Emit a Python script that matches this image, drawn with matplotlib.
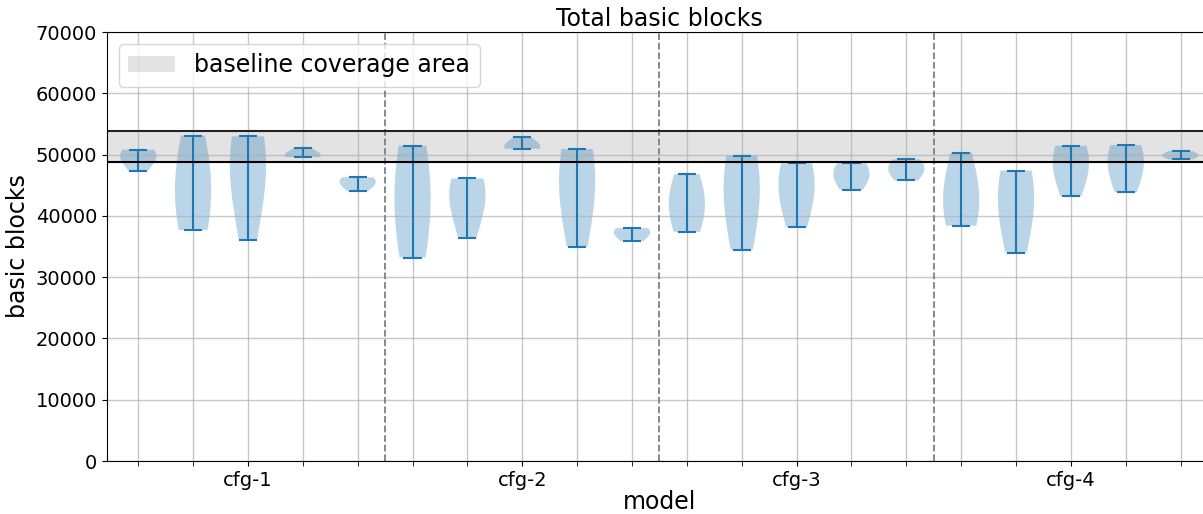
"""Violin plot of total basic blocks per run, grouped by cfg model."""

import matplotlib

matplotlib.use("Agg")
import matplotlib.pyplot as plt  # noqa: E402
from matplotlib.patches import Patch  # noqa: E402

# ── data ────────────────────────────────────────────────────────────────

group_labels = ["cfg-1", "cfg-2", "cfg-3", "cfg-4"]
runs_per_group = 5

baseline_low = 48800
baseline_high = 53800

# basic-block counts per run (one list per violin)
cfg1_runs = [
    [50800, 50600, 50400, 50200, 50000, 49600, 49000, 48200, 47400],
    [53100, 51800, 50200, 48600, 47000, 45500, 44000, 42500, 41000, 39800, 38800, 38200, 37700],
    [53000, 52600, 52000, 51200, 50200, 49000, 47500, 45500, 43000, 40000, 36000],
    [51000, 50400, 50000, 49800, 49700, 49600, 49600],
    [46300, 46100, 45900, 45600, 45300, 44900, 44050],
]
cfg2_runs = [
    [51450, 50500, 49000, 47500, 46000, 44000, 42000, 40000, 38000, 36000, 34500, 33200],
    [46100, 45800, 45300, 44600, 43800, 42800, 41500, 39500, 36400],
    [52800, 51700, 51300, 51100, 51000, 50950],
    [50900, 50300, 49500, 48500, 47200, 45500, 43500, 41000, 38000, 35000],
    [38000, 37900, 37700, 37400, 37000, 36500, 35900],
]
cfg3_runs = [
    [46800, 45500, 44000, 42800, 42000, 41000, 39800, 38500, 37400],
    [49800, 49300, 48500, 47400, 46000, 44200, 42000, 39500, 37000, 34500],
    [48600, 48000, 47300, 46500, 45500, 44200, 42600, 40500, 38200],
    [48600, 48100, 47600, 47200, 46700, 46000, 45200, 44300],
    [49200, 48700, 48200, 47800, 47300, 46700, 45800],
]
cfg4_runs = [
    [50300, 48000, 45500, 43500, 42000, 41000, 40200, 39500, 38400],
    [47400, 46900, 46000, 44800, 43400, 41700, 39600, 37000, 34000],
    [51450, 51000, 50300, 49500, 48500, 47200, 45500, 43200],
    [51550, 51100, 50400, 49600, 48600, 47300, 45800, 43900],
    [50600, 50150, 49950, 49900, 49800, 49600, 49200],
]

all_runs = cfg1_runs + cfg2_runs + cfg3_runs + cfg4_runs

# ── figure ──────────────────────────────────────────────────────────────

figure = plt.figure(figsize=(12.03, 5.14), dpi=100)
axis = figure.add_axes([0.0889, 0.1031, 0.9185, 0.8346])

positions = list(range(1, len(all_runs) + 1))
# wide kernel: the reference violins are smooth, nearly flat-sided
axis.violinplot(all_runs, positions=positions, widths=0.66, bw_method=1.5)

# baseline band, drawn as a shaded span with solid edges
axis.axhspan(baseline_low, baseline_high, color="gray", alpha=0.22, lw=0, zorder=0.5)
axis.axhline(baseline_high, color="#222222", lw=1.5, zorder=2.5)
axis.axhline(baseline_low, color="black", lw=1.5, zorder=2.5)

# separators between the model groups
for group_index in range(1, len(group_labels)):
    axis.axvline(
        group_index * runs_per_group + 0.5,
        color="gray",
        linestyle="--",
        lw=1.3,
        zorder=2,
    )

group_centres = [
    group_index * runs_per_group + (runs_per_group + 1) / 2
    for group_index in range(len(group_labels))
]
axis.set_xticks(group_centres)
axis.set_xticklabels(group_labels, fontsize=14)
axis.set_xticks(positions, minor=True)
axis.tick_params(axis="x", which="minor", length=3.5)
axis.tick_params(axis="y", labelsize=14)

axis.set_xlim(0.43, 20.57)
axis.set_ylim(0, 70000)
axis.set_yticks(range(0, 70001, 10000))
axis.grid(which="both", color="#b0b0b0", alpha=0.7, lw=1.0)

axis.set_title("Total basic blocks", fontsize=17, pad=4)
axis.set_xlabel("model", fontsize=17, labelpad=0)
axis.set_ylabel("basic blocks", fontsize=17)

axis.legend(
    handles=[Patch(facecolor="gray", alpha=0.22, label="baseline coverage area")],
    loc="upper left",
    fontsize=17,
)

figure.savefig("out.png", dpi=100)
